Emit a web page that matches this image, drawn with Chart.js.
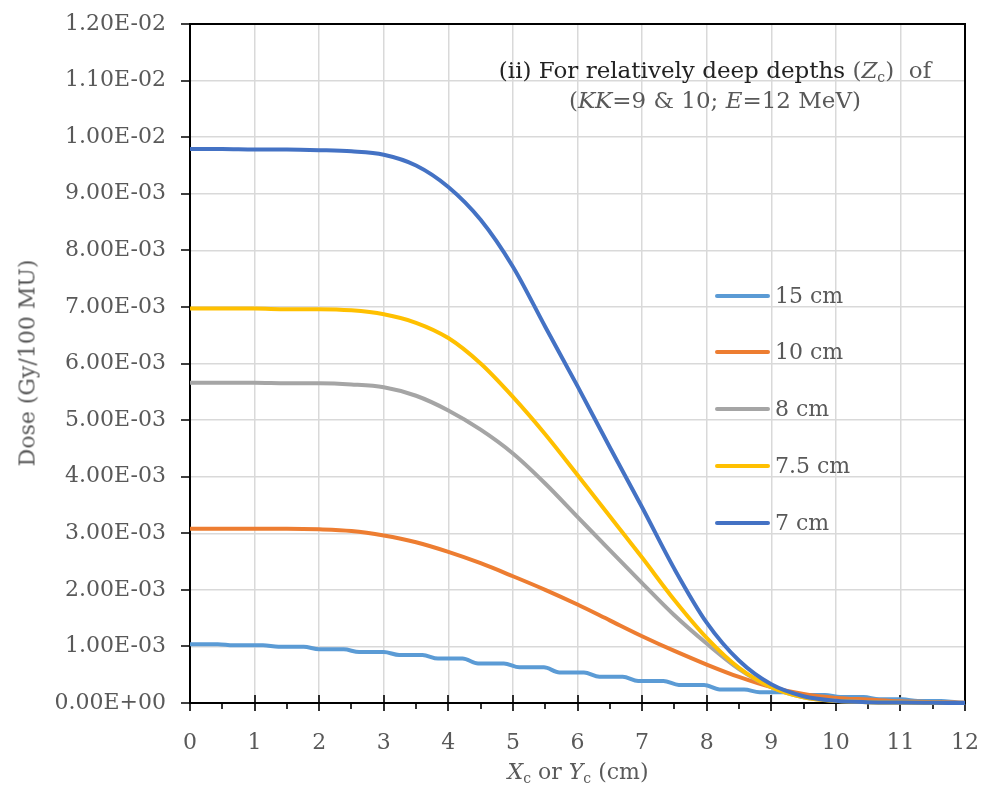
<!DOCTYPE html>
<html>
<head>
<meta charset="utf-8">
<script src="https://cdn.jsdelivr.net/npm/chart.js@4.4.1/dist/chart.umd.min.js"></script>
<style>
  body { margin: 0; background: #fff; }
  #wrap { position: relative; width: 981px; height: 794px; font-family: "DejaVu Serif", serif; color: #595959; }
  .lbl { position: absolute; white-space: nowrap; font-size: 22px; }
  sub { font-size: 14px; vertical-align: -4px; line-height: 0; }
</style>
</head>
<body>
<div id="wrap">
  <canvas id="doseChart" width="981" height="794"></canvas>
  <div class="lbl" id="title" style="left:435px; top:55px; width:560px; text-align:center; line-height:30px; font-size:23px;">
    <span style="color:#222">(ii) For relatively deep depths</span> (<i>Z</i><sub>c</sub>)&nbsp; of<br>
    (<i>KK</i>=9 &amp; 10; <i>E</i>=12 MeV)
  </div>
  <div class="lbl" id="xTitle" style="left:478px; top:759px; width:200px; text-align:center;">
    <i>X</i><sub>c</sub> or <i>Y</i><sub>c</sub> (cm)
  </div>
  <div class="lbl" id="yTitle" style="left:27px; top:363px; transform:translate(-50%,-50%) rotate(-90deg);">
    Dose (Gy/100 MU)
  </div>
</div>
<script>
// distance from centre (cm), 0.5 cm steps
const xs = [0,0.5,1,1.5,2,2.5,3,3.5,4,4.5,5,5.5,6,6.5,7,7.5,8,8.5,9,9.5,10,10.5,11,11.5,12];

// dose in units of 1E-03 Gy/100 MU
const dose10 = [3.08,3.08,3.08,3.08,3.07,3.04,2.96,2.84,2.67,2.47,2.24,2.0,1.74,1.46,1.18,0.92,0.68,0.46,0.28,0.16,0.09,0.06,0.03,0.015,0.005];
const dose8 = [5.66,5.66,5.66,5.65,5.65,5.63,5.58,5.43,5.17,4.83,4.41,3.88,3.29,2.70,2.12,1.55,1.05,0.6,0.28,0.1,0.04,0.015,0.008,0.004,0];
const dose75 = [6.97,6.97,6.97,6.96,6.96,6.94,6.87,6.72,6.45,6.0,5.41,4.75,4.03,3.3,2.57,1.82,1.15,0.62,0.28,0.1,0.035,0.015,0.008,0.004,0];
const dose7 = [9.79,9.79,9.78,9.78,9.77,9.75,9.69,9.50,9.12,8.54,7.71,6.65,5.6,4.52,3.46,2.37,1.42,0.75,0.33,0.12,0.04,0.015,0.008,0.004,0];

// 15 cm curve is stepped, so it has its own x positions
const x15 = [0,0.43,0.67,1.13,1.37,1.76,2.0,2.38,2.62,3.0,3.24,3.6,3.84,4.22,4.46,4.86,5.1,5.48,5.72,6.1,6.34,6.7,6.94,7.33,7.57,7.96,8.2,8.58,8.82,9.23,9.47,9.83,10.07,10.43,10.67,11.03,11.27,11.63,11.87,12];
const dose15 = [1.04,1.04,1.02,1.02,0.995,0.995,0.948,0.948,0.90,0.90,0.848,0.848,0.785,0.785,0.70,0.70,0.63,0.63,0.54,0.54,0.465,0.465,0.39,0.39,0.32,0.32,0.24,0.24,0.19,0.19,0.14,0.14,0.105,0.105,0.065,0.065,0.035,0.035,0.012,0.005];

const labels = ['15 cm', '10 cm', '8 cm', '7.5 cm', '7 cm'];
const colors = ['#5B9BD5', '#ED7D31', '#A5A5A5', '#FFC000', '#4472C4'];

const FONT = { family: '"DejaVu Serif", serif', size: 22 };
const TXT = '#595959';

const pts = (x, y) => x.map((v, i) => ({ x: v, y: y[i] }));
const series = [pts(x15, dose15), pts(xs, dose10), pts(xs, dose8), pts(xs, dose75), pts(xs, dose7)];

function fmtExp(v) {
  const val = v * 1e-3;
  if (Math.abs(val) < 1e-12) return '0.00E+00';
  const s = val.toExponential(2).toUpperCase();
  const [m, e] = s.split('E');
  return m + 'E' + e[0] + e.slice(1).padStart(2, '0');
}

// axis box, tick marks, and the legend inside the plot
const frame = {
  id: 'frame',
  beforeDatasetsDraw(chart) {
    const { ctx, chartArea: a, scales } = chart;
    ctx.save();
    ctx.strokeStyle = '#000';
    ctx.lineWidth = 2;
    ctx.strokeRect(a.left, a.top, a.right - a.left, a.bottom - a.top);
    ctx.lineWidth = 1.6;
    ctx.beginPath();
    for (let v = 0; v <= 12; v += 0.5) {
      const px = Math.round(scales.x.getPixelForValue(v));
      const major = v % 1 === 0;
      ctx.moveTo(px, major ? a.bottom - 8 : a.bottom);
      ctx.lineTo(px, a.bottom + (major ? 8 : 6));
    }
    for (let v = 0; v <= 12; v += 1) {
      const py = Math.round(scales.y.getPixelForValue(v));
      ctx.moveTo(a.left - 9, py);
      ctx.lineTo(a.left, py);
    }
    ctx.stroke();
    ctx.restore();
  },
  afterDatasetsDraw(chart) {
    const { ctx } = chart;
    const rows = [296, 352, 409, 466, 523];
    ctx.save();
    ctx.font = FONT.size + 'px ' + FONT.family;
    ctx.textBaseline = 'middle';
    chart.data.datasets.forEach((ds, i) => {
      const y = rows[i];
      ctx.strokeStyle = ds.borderColor;
      ctx.lineWidth = 4;
      ctx.lineCap = 'round';
      ctx.beginPath();
      ctx.moveTo(717, y);
      ctx.lineTo(768, y);
      ctx.stroke();
      ctx.fillStyle = TXT;
      ctx.fillText(ds.label, 775, y + 1);
    });
    ctx.restore();
  }
};

new Chart(document.getElementById('doseChart'), {
  type: 'line',
  data: {
    datasets: series.map((d, i) => ({
      label: labels[i],
      data: d,
      borderColor: colors[i],
      backgroundColor: colors[i],
      borderWidth: 4,
      pointRadius: 0,
      cubicInterpolationMode: 'monotone',
      clip: false,
      order: labels.length - i
    }))
  },
  options: {
    responsive: false,
    animation: false,
    devicePixelRatio: 1,
    layout: { padding: { top: 24, right: 16, left: 0, bottom: 0 } },
    plugins: { legend: { display: false }, tooltip: { enabled: false } },
    scales: {
      x: {
        type: 'linear', min: 0, max: 12,
        ticks: { stepSize: 1, color: TXT, font: FONT, padding: 27, maxRotation: 0 },
        grid: { color: '#d9d9d9', lineWidth: 1.5, drawTicks: false },
        border: { display: false },
        afterFit(s) { s.height = 91; s.paddingLeft = 0; s.paddingRight = 0; }
      },
      y: {
        min: 0, max: 12,
        ticks: { stepSize: 1, color: TXT, font: FONT, padding: 24, callback: fmtExp },
        grid: { color: '#d9d9d9', lineWidth: 1.5, drawTicks: false },
        border: { display: false },
        afterFit(s) { s.width = 190; s.paddingTop = 0; s.paddingBottom = 0; }
      }
    }
  },
  plugins: [frame]
});
</script>
</body>
</html>
